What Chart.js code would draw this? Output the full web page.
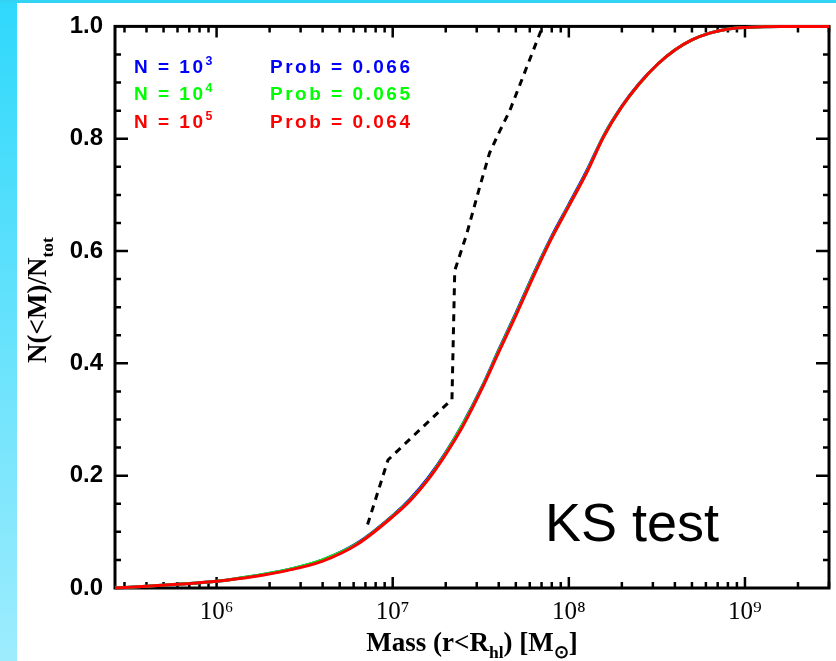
<!DOCTYPE html>
<html>
<head>
<meta charset="utf-8">
<script src="https://cdn.jsdelivr.net/npm/chart.js@4.4.1/dist/chart.umd.min.js"></script>
<style>
  html, body { margin: 0; padding: 0; background: #fff; }
  #wrap { position: relative; width: 836px; height: 661px; overflow: hidden; background: #fff; }
  .side { position: absolute; left: 0; top: 0; width: 17px; height: 661px; background: linear-gradient(#2fd8fb, #9decfd); }
  .topband { position: absolute; left: 0; top: 0; width: 836px; height: 3px; background: #33d3f3; }
  canvas { position: absolute; left: 0; top: 0; }
</style>
</head>
<body>
<div id="wrap">
  <div class="side"></div>
  <div class="topband"></div>
  <canvas id="grafico" width="836" height="661"></canvas>
</div>
<script>
// --- datos ---
const masses = [2.65e5, 4e5, 6.3e5, 1e6, 1.6e6, 2.5e6, 4e6, 6.3e6, 1e7, 1.26e7, 1.58e7, 2e7, 2.5e7,
  3.2e7, 4e7, 5e7, 6.3e7, 7.9e7, 1e8, 1.26e8, 1.58e8, 2e8, 2.5e8, 3.2e8, 4e8, 5e8, 6.3e8, 7.9e8,
  1e9, 1.6e9, 3e9];

const fracN3 = [0.000, 0.003, 0.007, 0.012, 0.021, 0.032, 0.050, 0.080, 0.129, 0.159, 0.195, 0.241,
  0.292, 0.357, 0.424, 0.489, 0.559, 0.623, 0.683, 0.742, 0.806, 0.858, 0.898, 0.933, 0.958, 0.976,
  0.988, 0.995, 0.998, 1.000, 1.000];
const fracN4 = [0.000, 0.003, 0.007, 0.012, 0.021, 0.032, 0.050, 0.079, 0.128, 0.157, 0.193, 0.240,
  0.291, 0.356, 0.422, 0.487, 0.557, 0.621, 0.681, 0.740, 0.805, 0.857, 0.897, 0.933, 0.958, 0.976,
  0.988, 0.995, 0.998, 1.000, 1.000];
const fracN5 = [0.000, 0.003, 0.007, 0.012, 0.020, 0.031, 0.048, 0.078, 0.127, 0.156, 0.192, 0.238,
  0.288, 0.354, 0.420, 0.485, 0.555, 0.620, 0.680, 0.739, 0.804, 0.857, 0.897, 0.933, 0.958, 0.976,
  0.988, 0.995, 0.998, 1.000, 1.000];

// curva observada (discontinua)
const obsMasses = [7.2e6, 9.4e6, 2.17e7, 2.25e7, 2.63e7, 3.13e7, 3.55e7, 4.07e7, 4.62e7, 7.1e7];
const obsFrac = [0.113, 0.228, 0.336, 0.565, 0.630, 0.716, 0.775, 0.815, 0.850, 1.000];

const seriesNames = ['N = 10', 'N = 10', 'N = 10'];
const seriesExp = ['3', '4', '5'];
const seriesProb = ['Prob = 0.066', 'Prob = 0.065', 'Prob = 0.064'];
const seriesColors = ['#0000ff', '#00ff00', '#ff0000'];

const xTickValues = [1e6, 1e7, 1e8, 1e9];
const xTickLabels = ['10⁶', '10⁷', '10⁸', '10⁹'];
const yTickValues = [0, 0.2, 0.4, 0.6, 0.8, 1.0];

function toPoints(xs, ys) {
    return xs.map((m, i) => ({ x: m, y: ys[i] }));
}

// dibuja texto con partes sub/superíndice
function drawParts(ctx, parts, x, y, size, family, weight, align) {
    let total = 0;
    parts.forEach(p => {
        const s = p.sub || p.sup ? size * 0.65 : size;
        ctx.font = `${weight} ${s}px ${family}`;
        p.w = ctx.measureText(p.t).width;
        total += p.w;
    });
    let cx = align === 'center' ? x - total / 2 : x;
    parts.forEach(p => {
        const s = p.sub || p.sup ? size * 0.65 : size;
        ctx.font = `${weight} ${s}px ${family}`;
        let dy = 0;
        if (p.sub) dy = size * 0.25;
        if (p.sup) dy = -size * 0.42;
        ctx.fillText(p.t, cx, y + dy);
        cx += p.w;
    });
}

// marco con ticks hacia dentro (estilo IDL)
const frame = {
    id: 'frame',
    beforeDatasetsDraw(chart) {
        const { ctx, chartArea: a, scales: { x, y } } = chart;
        ctx.save();
        ctx.strokeStyle = '#000';
        ctx.lineWidth = 3;
        ctx.strokeRect(a.left, a.top, a.right - a.left, a.bottom - a.top);
        ctx.lineWidth = 2.5;
        ctx.beginPath();
        for (let d = 1e5; d <= 1e9; d *= 10) {
            for (let k = 1; k <= 9; k++) {
                const v = d * k;
                if (v < x.min || v > x.max) continue;
                const px = x.getPixelForValue(v);
                const len = k === 1 ? 11 : 6;
                ctx.moveTo(px, a.bottom); ctx.lineTo(px, a.bottom - len);
                ctx.moveTo(px, a.top); ctx.lineTo(px, a.top + len);
            }
        }
        for (let i = 1; i < 20; i++) {
            const v = i * 0.05;
            const py = y.getPixelForValue(v);
            const len = i % 4 === 0 ? 13 : 6;
            ctx.moveTo(a.left, py); ctx.lineTo(a.left + len, py);
            ctx.moveTo(a.right, py); ctx.lineTo(a.right - len, py);
        }
        ctx.stroke();
        ctx.restore();
    },
    afterDraw(chart) {
        const { ctx } = chart;
        ctx.save();
        ctx.fillStyle = '#000';
        ctx.textBaseline = 'alphabetic';
        // título eje x
        drawParts(ctx, [{ t: 'Mass (r<R' }, { t: 'hl', sub: true }, { t: ') [M' }, { t: '⊙', sub: true }, { t: ']' }],
            472, 651, 27, '"Liberation Serif"', 'bold', 'center');
        // título eje y
        ctx.save();
        ctx.translate(46, 300);
        ctx.rotate(-Math.PI / 2);
        drawParts(ctx, [{ t: 'N(<M)/N' }, { t: 'tot', sub: true }], 0, 0, 27, '"Liberation Serif"', 'bold', 'center');
        ctx.restore();

        // leyenda
        ctx.letterSpacing = '2.5px';
        const rowsY = [73, 100, 128];
        seriesNames.forEach((n, i) => {
            ctx.fillStyle = seriesColors[i];
            drawParts(ctx, [{ t: n }, { t: seriesExp[i], sup: true }], 134, rowsY[i], 19, '"Liberation Sans"', 'bold', 'left');
            ctx.font = 'bold 19px "Liberation Sans"';
            ctx.fillText(seriesProb[i], 270, rowsY[i]);
        });
        ctx.letterSpacing = '0px';

        ctx.fillStyle = '#000';
        ctx.font = 'normal 54px "Liberation Sans"';
        ctx.fillText('KS test', 545, 541);
        ctx.restore();
    }
};

const ctx = document.getElementById('grafico');

const chart = new Chart(ctx, {
    type: 'line',
    data: {
        datasets: [
            { label: 'N = 10^3', data: toPoints(masses, fracN3), borderColor: seriesColors[0], order: 3 },
            { label: 'N = 10^4', data: toPoints(masses, fracN4), borderColor: seriesColors[1], order: 2 },
            { label: 'N = 10^5', data: toPoints(masses, fracN5), borderColor: seriesColors[2], order: 1 },
            {
                label: 'observed', data: toPoints(obsMasses, obsFrac), borderColor: '#000',
                borderDash: [7, 6], tension: 0, cubicInterpolationMode: 'default', order: 0
            }
        ]
    },
    options: {
        responsive: false,
        animation: false,
        events: [],
        layout: { padding: { top: 14, right: 7, left: 0, bottom: 0 } },
        elements: {
            point: { radius: 0 },
            line: { borderWidth: 3, cubicInterpolationMode: 'monotone', fill: false }
        },
        datasets: { line: { clip: 4 } },
        plugins: {
            legend: { display: false },
            tooltip: { enabled: false }
        },
        scales: {
            x: {
                type: 'logarithmic',
                min: 2.65e5,
                max: 3.0e9,
                grid: { display: false, drawTicks: false },
                border: { display: false },
                afterBuildTicks: s => { s.ticks = xTickValues.map(v => ({ value: v })); },
                afterFit: s => { s.height = 73; },
                ticks: {
                    autoSkip: false,
                    maxRotation: 0,
                    padding: 9,
                    color: '#000',
                    font: { family: '"Liberation Serif"', size: 25 },
                    callback: v => xTickLabels[xTickValues.indexOf(v)]
                }
            },
            y: {
                type: 'linear',
                min: 0,
                max: 1,
                grid: { display: false, drawTicks: false },
                border: { display: false },
                afterBuildTicks: s => { s.ticks = yTickValues.map(v => ({ value: v })); },
                afterFit: s => { s.width = 115; },
                ticks: {
                    padding: 12,
                    color: '#000',
                    font: { family: '"Liberation Sans"', size: 24, weight: 'bold' },
                    callback: v => v.toFixed(1)
                }
            }
        }
    },
    plugins: [frame]
});
</script>
</body>
</html>
